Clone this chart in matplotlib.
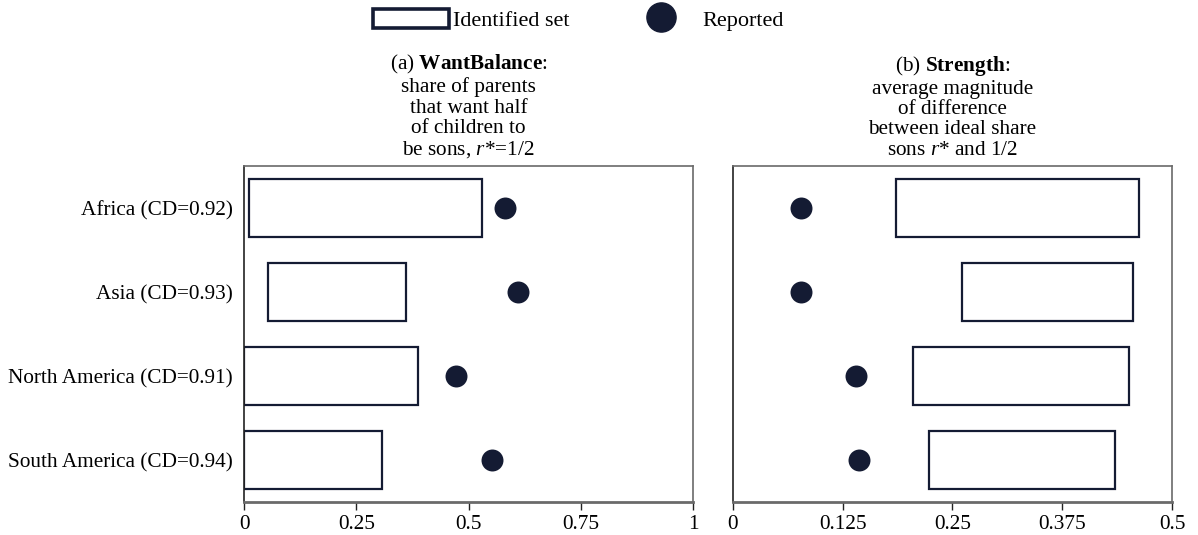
import numpy as np
import matplotlib
matplotlib.use("Agg")
import matplotlib.pyplot as plt
from matplotlib.patches import Rectangle, Patch
from matplotlib.lines import Line2D

plt.rcParams['font.family'] = ['Liberation Serif', 'DejaVu Serif']
plt.rcParams['mathtext.fontset'] = 'custom'
plt.rcParams['mathtext.rm'] = 'Liberation Serif'
plt.rcParams['mathtext.it'] = 'Liberation Serif:italic'
plt.rcParams['mathtext.bf'] = 'Liberation Serif:bold'

regions = ['Africa (CD=0.92)', 'Asia (CD=0.93)',
           'North America (CD=0.91)', 'South America (CD=0.94)']

# identified sets (lower, upper) and reported values
want_lo = [0.011, 0.053, 0.0, 0.0]
want_hi = [0.531, 0.360, 0.387, 0.307]
want_rep = [0.581, 0.611, 0.472, 0.553]

str_lo = [0.186, 0.261, 0.205, 0.223]
str_hi = [0.462, 0.456, 0.451, 0.435]
str_rep = [0.078, 0.078, 0.140, 0.144]

left_ticks = [0, 0.25, 0.5, 0.75, 1]
left_ticklabels = ['0', '0.25', '0.5', '0.75', '1']
right_ticks = [0, 0.125, 0.25, 0.375, 0.5]
right_ticklabels = ['0', '0.125', '0.25', '0.375', '0.5']

navy = '#141b33'
spine_col = '#6a6a6a'
fs = 15.3

fig = plt.figure(figsize=(11.98, 5.35), dpi=100)
ax1 = fig.add_axes([0.2037, 0.0617, 0.3748, 0.628])
ax2 = fig.add_axes([0.6118, 0.0617, 0.3665, 0.628])

def draw_panel(ax, lo, hi, rep, xmax, ticks, ticklabels):
    y = np.arange(len(lo))
    h = 0.68
    for yi, a, b in zip(y, lo, hi):
        ax.add_patch(Rectangle((a, yi - h / 2), b - a, h, facecolor='white',
                               edgecolor=navy, linewidth=1.6, zorder=2))
    ax.scatter(rep, y, s=250, color=navy, zorder=3, linewidths=0)
    ax.set_xlim(0, xmax)
    ax.set_ylim(3.5, -0.5)
    ax.set_xticks(ticks)
    ax.set_xticklabels(ticklabels, fontsize=fs)
    ax.tick_params(axis='x', direction='out', length=6, width=1,
                   color='#222222', pad=3.5)
    for side, sp in ax.spines.items():
        sp.set_color(spine_col)
        sp.set_linewidth(1.2)
    ax.spines['bottom'].set_linewidth(2.0)
    ax.spines['left'].set_color('#222222')

draw_panel(ax1, want_lo, want_hi, want_rep, 1, left_ticks, left_ticklabels)
draw_panel(ax2, str_lo, str_hi, str_rep, 0.5, right_ticks, right_ticklabels)

ax1.set_yticks(np.arange(len(regions)))
ax1.set_yticklabels(regions, fontsize=fs)
ax1.tick_params(axis='y', length=0, pad=8)
ax2.set_yticks([])

ax1.set_title('(a) $\\mathbf{WantBalance}$:\nshare of parents\nthat want half\nof children to\nbe sons, $r$*=1/2',
              fontsize=fs, linespacing=1.1, pad=8)
ax2.set_title('(b) $\\mathbf{Strength}$:\naverage magnitude\nof difference\nbetween ideal share\nsons $r$* and 1/2',
              fontsize=fs, linespacing=1.1, pad=8)

handles = [Patch(facecolor='white', edgecolor=navy, linewidth=2.6),
           Line2D([], [], marker='o', linestyle='none', markersize=21,
                  markerfacecolor=navy, markeredgecolor=navy)]
fig.legend(handles, ['Identified set', 'Reported'], loc='center',
           bbox_to_anchor=(0.483, 0.963), ncol=2, frameon=False,
           fontsize=16, handlelength=3.4, handleheight=1.0,
           handletextpad=0.2, columnspacing=2.4)

fig.savefig('out.png', dpi=100)
